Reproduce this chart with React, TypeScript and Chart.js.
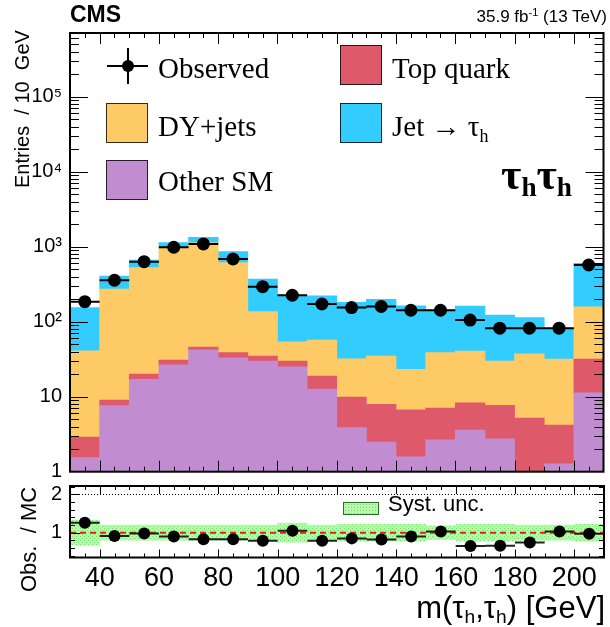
import React, { useEffect, useRef } from 'react';
import { Chart, registerables } from 'chart.js';

Chart.register(...registerables);

// ---- data: 10 GeV bins of m(tau_h, tau_h), last bin includes overflow ----
const binCenters = [35, 45, 55, 65, 75, 85, 95, 105, 115, 125, 135, 145, 155, 165, 175, 185, 195, 205];
const observed = [185, 357, 631, 982, 1087, 685, 293, 225, 172, 154, 160, 142, 142, 105, 82, 82, 82, 570];
const otherSM = [1.54, 7.6, 17, 26.5, 42, 33, 29.9, 25, 12.6, 3.86, 2.49, 1.58, 2.65, 3.6, 2.75, 0.9, 1.27, 11.3];
const topQuark = [1.36, 1.4, 3.0, 4.3, 4.0, 5.6, 5.0, 4.9, 6.3, 6.0, 5.4, 5.1, 4.4, 4.7, 4.9, 4.3, 2.9, 20.5];
const dyJets = [38, 264, 505, 921, 1084, 573, 101, 24, 38, 22, 27, 16.5, 31.6, 32.4, 22.2, 32.2, 27.6, 126];
const jetFakes = [113, 134, 140, 178, 204, 246, 235, 168, 165, 149, 164, 139, 101, 121, 93, 76, 48, 442];
const ratioObsMc = [1.26, 0.91, 0.98, 0.9, 0.83, 0.83, 0.79, 1.05, 0.79, 0.85, 0.82, 0.9, 1.03, 0.65, 0.66, 0.74, 1.03, 0.97];
const systUnc = [0.33, 0.2, 0.2, 0.2, 0.2, 0.2, 0.2, 0.25, 0.2, 0.22, 0.22, 0.22, 0.18, 0.22, 0.22, 0.2, 0.2, 0.22];
const yDecades = [1, 10, 100, 1000, 10000, 100000];
const xTickLabels = [40, 60, 80, 100, 120, 140, 160, 180, 200];
const ratioTickLabels = [1, 2];

const BIN_HALF = 5;
const X_MIN = 30;
const X_MAX = 210;
const PAGE_W = 610;
const PAGE_H = 627;

const SANS = '"Liberation Sans", Arial, Helvetica, sans-serif';
const SERIF = '"Liberation Serif", "Times New Roman", Times, serif';

const C_PURPLE = 'rgb(193,140,208)';
const C_RED = 'rgb(222,90,106)';
const C_ORANGE = 'rgb(254,202,102)';
const C_CYAN = 'rgb(51,204,255)';

const SUPERS: Record<string, string> = { '2': '\u00b2', '3': '\u00b3', '4': '\u2074', '5': '\u2075', '6': '\u2076' };

function logLabel(v: number): string {
  if (v === 1) return '1';
  if (v === 10) return '10';
  const e = Math.round(Math.log10(v));
  return '10' + (SUPERS[String(e)] || '');
}

// inward ROOT-style ticks on all four sides of the frame
const frameTicks = {
  id: 'frameTicks',
  afterDraw(chart: any, _args: any, opts: any) {
    const { ctx, chartArea: a, scales } = chart;
    ctx.save();
    ctx.strokeStyle = '#000';
    ctx.lineWidth = 1;
    ctx.beginPath();
    for (const t of opts.xTicks) {
      const px = Math.round(scales.x.getPixelForValue(t.v)) + 0.5;
      ctx.moveTo(px, a.bottom);
      ctx.lineTo(px, a.bottom - t.len);
      ctx.moveTo(px, a.top);
      ctx.lineTo(px, a.top + t.len);
    }
    for (const t of opts.yTicks) {
      const py = Math.round(scales.y.getPixelForValue(t.v)) + 0.5;
      ctx.moveTo(a.left, py);
      ctx.lineTo(a.left + t.len, py);
      ctx.moveTo(a.right, py);
      ctx.lineTo(a.right - t.len, py);
    }
    ctx.stroke();
    ctx.lineWidth = 2;
    ctx.strokeRect(a.left, a.top, a.right - a.left, a.bottom - a.top);
    ctx.restore();
  },
};

// horizontal bin-width bars behind the data markers, plus reference lines in the ratio pad
const markerBars = {
  id: 'markerBars',
  beforeDatasetDraw(chart: any, args: any, opts: any) {
    if (args.meta.type !== 'scatter') return;
    const { ctx, chartArea: a, scales } = chart;
    ctx.save();
    if (opts.refLines) {
      const y2 = Math.round(scales.y.getPixelForValue(2)) + 0.5;
      ctx.strokeStyle = '#000';
      ctx.lineWidth = 1;
      ctx.setLineDash([1, 2]);
      ctx.beginPath();
      ctx.moveTo(a.left, y2);
      ctx.lineTo(a.right, y2);
      ctx.stroke();
      const y1 = scales.y.getPixelForValue(1);
      ctx.strokeStyle = 'rgb(230,30,20)';
      ctx.lineWidth = 2;
      ctx.setLineDash([6, 4]);
      ctx.beginPath();
      ctx.moveTo(a.left, y1);
      ctx.lineTo(a.right, y1);
      ctx.stroke();
      ctx.setLineDash([]);
    }
    ctx.strokeStyle = opts.color || '#000';
    ctx.lineWidth = 2;
    ctx.beginPath();
    const vals: number[] = opts.values;
    binCenters.forEach((c, i) => {
      const y = scales.y.getPixelForValue(vals[i]);
      ctx.moveTo(scales.x.getPixelForValue(c - BIN_HALF), y);
      ctx.lineTo(scales.x.getPixelForValue(c + BIN_HALF), y);
    });
    ctx.stroke();
    ctx.restore();
  },
};

function xTickMarks(longLen: number, shortLen: number) {
  const out: { v: number; len: number }[] = [];
  for (let v = X_MIN + 5; v < X_MAX; v += 5) out.push({ v, len: v % 20 === 0 ? longLen : shortLen });
  return out;
}

function logTickMarks(max: number) {
  const out: { v: number; len: number }[] = [];
  for (let k = 0; k < 7; k++) {
    for (let m = 1; m <= 9; m++) {
      const v = m * Math.pow(10, k);
      if (v > 1 && v < max) out.push({ v, len: m === 1 ? 18 : 9 });
    }
  }
  return out;
}

function ratioTickMarks() {
  const out: { v: number; len: number }[] = [];
  for (let i = 2; i <= 11; i++) {
    const v = i / 5;
    out.push({ v, len: Math.abs(v - Math.round(v)) < 1e-6 ? 10 : 5 });
  }
  return out;
}

function makeHatch(ctx: CanvasRenderingContext2D) {
  const c = document.createElement('canvas');
  c.width = 4;
  c.height = 4;
  const g = c.getContext('2d')!;
  g.fillStyle = 'rgb(185,248,175)';
  g.fillRect(0, 0, 4, 4);
  g.fillStyle = 'rgb(120,228,110)';
  g.fillRect(0, 0, 1, 1);
  g.fillRect(2, 2, 1, 1);
  return ctx.createPattern(c, 'repeat')!;
}

// keep edge tick labels from shrinking the plot area
const noEdgePadding = (s: any) => {
  s.paddingTop = 0;
  s.paddingBottom = 0;
  s.paddingLeft = 0;
  s.paddingRight = 0;
};

const MAIN_H = 500;
const MAIN_TOP = 33;
const MAIN_BOTTOM = 471.7;
const Y_MAX = 7.06e5;
const RATIO_TOP_PAGE = 476;
const RATIO_H = PAGE_H - RATIO_TOP_PAGE;
const RATIO_AREA_TOP = 486;
const RATIO_AREA_BOTTOM = 557.5;

function Sub({ children }: { children: React.ReactNode }) {
  return <span style={{ fontSize: '0.62em', position: 'relative', top: '0.28em' }}>{children}</span>;
}
function Sup({ children }: { children: React.ReactNode }) {
  return <span style={{ fontSize: '0.65em', position: 'relative', top: '-0.5em' }}>{children}</span>;
}

type TxtProps = {
  x: number;
  base: number;
  size: number;
  family?: string;
  weight?: string | number;
  anchor?: 'start' | 'end';
  children: React.ReactNode;
};
function Txt({ x, base, size, family = SANS, weight = 'normal', anchor = 'start', children }: TxtProps) {
  const style: React.CSSProperties = {
    position: 'absolute',
    top: base - 0.845 * size,
    fontFamily: family,
    fontSize: size,
    fontWeight: weight as any,
    lineHeight: `${size}px`,
    whiteSpace: 'nowrap',
    color: '#000',
  };
  if (anchor === 'end') style.right = PAGE_W - x;
  else style.left = x;
  return <div style={style}>{children}</div>;
}

function LegendBox({ x, y, color }: { x: number; y: number; color: string }) {
  return (
    <div
      style={{
        position: 'absolute',
        left: x,
        top: y,
        width: 42,
        height: 40,
        boxSizing: 'border-box',
        background: color,
        border: '1px solid rgba(0,0,0,0.8)',
      }}
    />
  );
}

export default function App() {
  const mainRef = useRef<HTMLCanvasElement | null>(null);
  const ratioRef = useRef<HTMLCanvasElement | null>(null);

  useEffect(() => {
    const font = { family: SANS, size: 20 };
    const pts = (arr: number[]) => binCenters.map((x, i) => ({ x, y: arr[i] }));

    const main = new Chart(mainRef.current!, {
      type: 'bar',
      data: {
        datasets: [
          {
            type: 'scatter',
            label: 'Observed',
            data: pts(observed),
            stack: 'obs',
            order: -1,
            pointRadius: 6.5,
            pointBackgroundColor: '#000',
            pointBorderWidth: 0,
            showLine: false,
          } as any,
          { type: 'bar', label: 'Other SM', data: pts(otherSM), stack: 'mc', backgroundColor: C_PURPLE },
          { type: 'bar', label: 'Top quark', data: pts(topQuark), stack: 'mc', backgroundColor: C_RED },
          { type: 'bar', label: 'DY+jets', data: pts(dyJets), stack: 'mc', backgroundColor: C_ORANGE },
          { type: 'bar', label: 'Jet \u2192 \u03c4h', data: pts(jetFakes), stack: 'mc', backgroundColor: C_CYAN },
        ],
      },
      options: {
        responsive: false,
        animation: false,
        events: [],
        layout: { padding: { top: MAIN_TOP, right: PAGE_W - 608, bottom: MAIN_H - MAIN_BOTTOM, left: 0 } },
        datasets: { bar: { barPercentage: 1, categoryPercentage: 1, borderWidth: 0 } as any },
        plugins: {
          legend: { display: false },
          tooltip: { enabled: false },
          frameTicks: { xTicks: xTickMarks(11, 5), yTicks: logTickMarks(Y_MAX) },
          markerBars: { values: observed },
        } as any,
        scales: {
          x: {
            type: 'linear',
            min: X_MIN,
            max: X_MAX,
            offset: false,
            stacked: true,
            display: false,
            afterBuildTicks: (s: any) => {
              s.ticks = xTickLabels.map((v) => ({ value: v }));
            },
            afterFit: noEdgePadding,
          },
          y: {
            type: 'logarithmic',
            min: 1,
            max: Y_MAX,
            stacked: true,
            grid: { display: false, drawTicks: false },
            border: { display: false },
            afterBuildTicks: (s: any) => {
              s.ticks = yDecades.map((v) => ({ value: v }));
            },
            afterFit: (s: any) => {
              s.width = 70;
              noEdgePadding(s);
            },
            ticks: {
              padding: 8,
              color: '#000',
              font,
              autoSkip: false,
              callback: (v: any) => logLabel(Number(v)),
            },
          },
        },
      } as any,
      plugins: [frameTicks, markerBars],
    });

    const rctx = ratioRef.current!.getContext('2d')!;
    const hatch = makeHatch(rctx);
    const ratio = new Chart(ratioRef.current!, {
      type: 'bar',
      data: {
        datasets: [
          {
            type: 'scatter',
            label: 'Obs. / MC',
            data: pts(ratioObsMc),
            order: -1,
            pointRadius: 6,
            pointBackgroundColor: '#000',
            pointBorderWidth: 0,
            showLine: false,
          } as any,
          {
            type: 'bar',
            label: 'Syst. unc.',
            data: binCenters.map((x, i) => ({ x, y: [1 - systUnc[i], 1 + systUnc[i]] })),
            backgroundColor: hatch,
            borderWidth: 0,
            barPercentage: 1,
            categoryPercentage: 1,
          } as any,
        ],
      },
      options: {
        responsive: false,
        animation: false,
        events: [],
        layout: { padding: { top: RATIO_AREA_TOP - RATIO_TOP_PAGE, right: PAGE_W - 608, bottom: 0, left: 0 } },
        plugins: {
          legend: { display: false },
          tooltip: { enabled: false },
          frameTicks: { xTicks: xTickMarks(8, 4), yTicks: ratioTickMarks() },
          markerBars: { values: ratioObsMc, refLines: true, color: '#222' },
        } as any,
        scales: {
          x: {
            type: 'linear',
            min: X_MIN,
            max: X_MAX,
            offset: false,
            grid: { display: false, drawTicks: false },
            border: { display: false },
            afterBuildTicks: (s: any) => {
              s.ticks = xTickLabels.map((v) => ({ value: v }));
            },
            afterFit: (s: any) => {
              s.height = RATIO_H - (RATIO_AREA_BOTTOM - RATIO_TOP_PAGE);
              noEdgePadding(s);
            },
            ticks: {
              padding: 5,
              color: '#000',
              font: { family: SANS, size: 27 },
              maxRotation: 0,
              autoSkip: false,
              callback: (v: any) => String(v),
            },
          },
          y: {
            type: 'linear',
            min: 0.35,
            max: 2.22,
            grid: { display: false, drawTicks: false },
            border: { display: false },
            afterBuildTicks: (s: any) => {
              s.ticks = ratioTickLabels.map((v) => ({ value: v }));
            },
            afterFit: (s: any) => {
              s.width = 70;
              noEdgePadding(s);
            },
            ticks: { padding: 8, color: '#000', font, callback: (v: any) => String(v) },
          },
        },
      } as any,
      plugins: [frameTicks, markerBars],
    });

    return () => {
      main.destroy();
      ratio.destroy();
    };
  }, []);

  return (
    <div
      style={{
        position: 'absolute',
        left: 0,
        top: 0,
        width: PAGE_W,
        height: PAGE_H,
        overflow: 'hidden',
        background: '#fff',
      }}
    >
      <canvas ref={mainRef} width={PAGE_W} height={MAIN_H} style={{ position: 'absolute', left: 0, top: 0 }} />
      <canvas
        ref={ratioRef}
        width={PAGE_W}
        height={RATIO_H}
        style={{ position: 'absolute', left: 0, top: RATIO_TOP_PAGE }}
      />

      {/* header */}
      <Txt x={70} base={22} size={23} weight="bold">
        CMS
      </Txt>
      <Txt x={607} base={22} size={17} anchor="end">
        35.9 fb<Sup>-1</Sup> (13 TeV)
      </Txt>

      {/* axis titles */}
      <div
        style={{
          position: 'absolute',
          left: 11,
          top: 30,
          height: 200,
          width: 22,
          writingMode: 'vertical-rl',
          transform: 'rotate(180deg)',
          textAlign: 'end',
          fontFamily: SANS,
          fontSize: 20,
          lineHeight: '22px',
          whiteSpace: 'pre',
        }}
      >
        {'Entries  / 10  GeV'}
      </div>
      <div
        style={{
          position: 'absolute',
          left: 17,
          top: 484,
          height: 110,
          width: 24,
          writingMode: 'vertical-rl',
          transform: 'rotate(180deg)',
          textAlign: 'center',
          fontFamily: SANS,
          fontSize: 22,
          lineHeight: '24px',
          whiteSpace: 'pre',
        }}
      >
        {'Obs.  / MC'}
      </div>
      <Txt x={605} base={618} size={31} anchor="end">
        m(&tau;<Sub>h</Sub>,&tau;<Sub>h</Sub>) [GeV]
      </Txt>

      {/* legend */}
      <div style={{ position: 'absolute', left: 107, top: 65, width: 41, height: 2, background: '#000' }} />
      <div style={{ position: 'absolute', left: 127, top: 48, width: 2, height: 36, background: '#000' }} />
      <div
        style={{ position: 'absolute', left: 122, top: 60, width: 12, height: 12, borderRadius: '50%', background: '#000' }}
      />
      <Txt x={158} base={79} size={29} family={SERIF}>
        Observed
      </Txt>
      <LegendBox x={340} y={45} color={C_RED} />
      <Txt x={392} base={79} size={29} family={SERIF}>
        Top quark
      </Txt>
      <LegendBox x={106} y={103} color={C_ORANGE} />
      <Txt x={158} base={137} size={29} family={SERIF}>
        DY+jets
      </Txt>
      <LegendBox x={340} y={103} color={C_CYAN} />
      <Txt x={392} base={137} size={29} family={SERIF}>
        Jet &rarr; &tau;<Sub>h</Sub>
      </Txt>
      <LegendBox x={106} y={160} color={C_PURPLE} />
      <Txt x={158} base={192} size={29} family={SERIF}>
        Other SM
      </Txt>
      <Txt x={572} base={190} size={44} family={SERIF} weight="bold" anchor="end">
        &tau;<Sub>h</Sub>&tau;<Sub>h</Sub>
      </Txt>

      {/* ratio legend */}
      <div
        style={{
          position: 'absolute',
          left: 343,
          top: 502,
          width: 36,
          height: 13,
          boxSizing: 'border-box',
          border: '1px solid rgb(40,110,40)',
          backgroundColor: 'rgb(185,248,175)',
          backgroundImage: 'radial-gradient(rgb(110,225,100) 0.7px, transparent 0.9px)',
          backgroundSize: '3px 3px',
        }}
      />
      <Txt x={388} base={512} size={22}>
        Syst. unc.
      </Txt>
    </div>
  );
}
